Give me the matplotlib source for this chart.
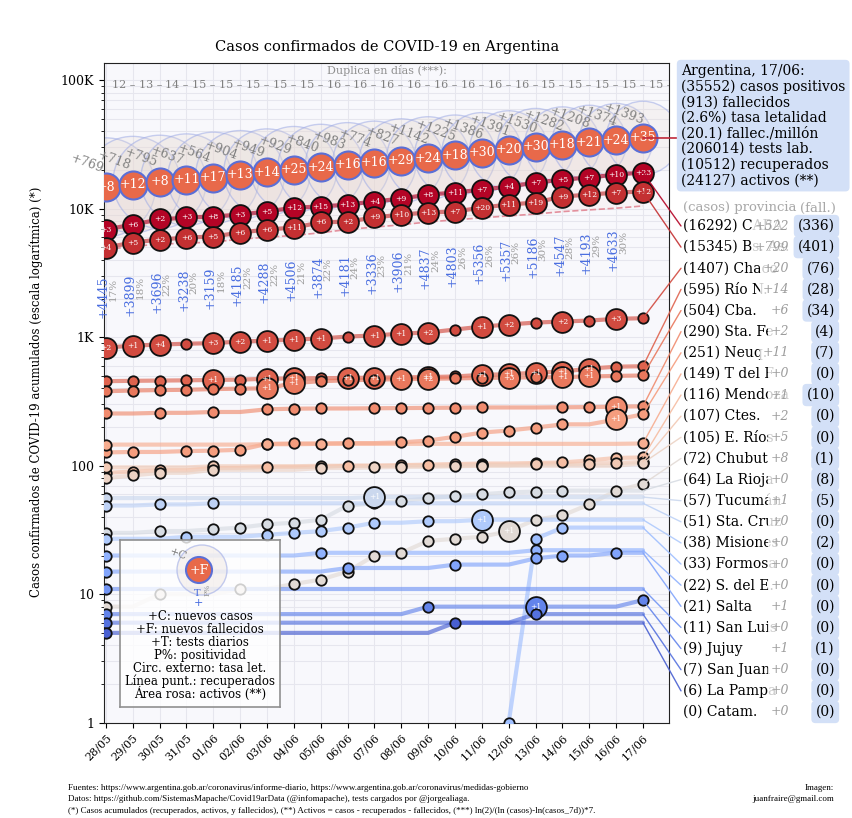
import numpy as np
import matplotlib
matplotlib.use('Agg')
import matplotlib.pyplot as plt
from matplotlib.patches import Circle, ConnectionPatch
from matplotlib.transforms import blended_transform_factory
from matplotlib.ticker import LogLocator, NullFormatter

plt.rcParams['font.family'] = ['DejaVu Serif']

# ---------------- data ----------------
dates = ['28/05', '29/05', '30/05', '31/05', '01/06', '02/06', '03/06', '04/06', '05/06', '06/06',
         '07/06', '08/06', '09/06', '10/06', '11/06', '12/06', '13/06', '14/06', '15/06', '16/06', '17/06']
cases = [14701, 15419, 16214, 16851, 17415, 18319, 19268, 20197, 21037, 22020, 22794,
         23621, 24763, 25988, 27374, 28765, 30295, 31577, 32785, 34159, 35552]
new_cases = [769, 718, 795, 637, 564, 904, 949, 929, 840, 983, 774,
             827, 1142, 1225, 1386, 1391, 1530, 1282, 1208, 1374, 1393]
deaths = [508, 520, 528, 539, 556, 569, 583, 608, 632, 648, 664,
          693, 717, 735, 765, 785, 815, 833, 854, 878, 913]
new_deaths = [8, 12, 8, 11, 17, 13, 14, 25, 24, 16, 16, 29, 24, 18, 30, 20, 30, 18, 21, 24, 35]
recovered = [4800, 5100, 5300, 5400, 5500, 5800, 6000, 6200, 6500, 6900, 7200,
             7500, 7900, 8200, 8500, 8800, 9100, 9500, 9800, 10100, 10512]
doubling = [12, 13, 14, 15, 15, 15, 15, 15, 16, 16, 16, 16, 16, 16, 16, 16, 15, 15, 15, 15, 15]
tests = [4445, 3899, 3696, 3238, 3159, 4185, 4288, 4506, 3874, 4181,
         3336, 3906, 4837, 4803, 5356, 5357, 5186, 4547, 4193, 4633]
positivity = [17, 18, 22, 20, 18, 22, 22, 21, 22, 24, 23, 21, 24, 26, 26, 26, 30, 28, 29, 30]

summary_lines = ['Argentina, 17/06:', '(35552) casos positivos', '(913) fallecidos',
                 '(2.6%) tasa letalidad', '(20.1) fallec./millón', '(206014) tests lab.',
                 '(10512) recuperados', '(24127) activos (**)']

prov_names = ['CABA', 'Bs. As.', 'Chaco', 'Río N.', 'Cba.', 'Sta. Fe', 'Neuq.', 'T del F',
              'Mendoza', 'Ctes.', 'E. Ríos', 'Chubut', 'La Rioja', 'Tucumán', 'Sta. Cruz',
              'Misiones', 'Formosa', 'S. del E.', 'Salta', 'San Luis', 'Jujuy', 'San Juan',
              'La Pampa', 'Catam.']
prov_total = [16292, 15345, 1407, 595, 504, 290, 251, 149, 116, 107, 105, 72, 64, 57, 51,
              38, 33, 22, 21, 11, 9, 7, 6, 0]
prov_new_today = [522, 799, 20, 14, 6, 2, 11, 0, 1, 2, 5, 8, 0, 1, 0, 0, 0, 0, 1, 0, 1, 0, 0, 0]
prov_deaths_total = [336, 401, 76, 28, 34, 4, 7, 0, 10, 0, 0, 1, 8, 5, 0, 2, 0, 0, 0, 0, 1, 0, 0, 0]

nan = np.nan
prov_series = [
    [6890, 7540, 8250, 8550, 8700, 9020, 9510, 10210, 10400, 10790, 11380, 12000, 12890, 13360, 14100, 14880, 15990, 16870, 17500, 18460, 19140],
    [4990, 5460, 5760, 5970, 6080, 6530, 6890, 7140, 7820, 7950, 8550, 9020, 9350, 9510, 10210, 10790, 11170, 12450, 12890, 13360, 13620],
    [831, 860, 878, 890, 900, 926, 940, 960, 977, 1013, 1031, 1068, 1088, 1148, 1211, 1256, 1301, 1325, 1349, 1390, 1407],
    [455, 458, 460, 462, 465, 468, 475, 478, 480, 482, 485, 488, 490, 495, 510, 515, 530, 540, 570, 590, 595],
    [380, 385, 388, 390, 395, 398, 400, 440, 455, 462, 468, 472, 475, 478, 482, 485, 488, 490, 495, 500, 504],
    [255, 255, 258, 258, 262, 262, 275, 278, 279, 279, 280, 281, 282, 283, 284, 284, 284, 285, 286, 288, 290],
    [127, 128, 128, 130, 131, 133, 148, 149, 149, 150, 150, 152, 157, 168, 181, 188, 198, 210, 210, 229, 251],
    [146, 146, 146, 146, 146, 146, 147, 147, 148, 148, 148, 148, 148, 148, 148, 148, 148, 148, 148, 148, 149],
    [88, 90, 92, 92, 96, 96, 98, 98, 98, 100, 100, 101, 102, 103, 104, 104, 105, 106, 110, 115, 116],
    [97, 97, 97, 97, 99, 99, 99, 99, 100, 100, 100, 100, 100, 100, 101, 101, 103, 103, 104, 105, 107],
    [80, 84, 88, 88, 93, 93, 93, 93, 96, 96, 97, 98, 98, 99, 100, 100, 100, 100, 100, 100, 105],
    [8, 8, 10, 10, 10, 11, 11, 12, 13, 15, 20, 21, 26, 27, 28, 31, 38, 41, 50, 64, 72],
    [30, 30, 31, 31, 32, 33, 35, 36, 38, 49, 51, 53, 56, 58, 60, 62, 63, 64, 64, 64, 64],
    [56, 56, 56, 56, 56, 56, 56, 56, 56, 56, 57, 57, 57, 57, 57, 57, 57, 57, 57, 57, 57],
    [49, 49, 50, 50, 51, 51, 51, 51, 51, 51, 51, 51, 51, 51, 51, 51, 51, 51, 51, 51, 51],
    [27, 27, 27, 28, 28, 28, 29, 30, 31, 33, 36, 36, 37, 37, 38, 38, 38, 38, 38, 38, 38],
    [nan, nan, nan, nan, nan, nan, nan, nan, nan, nan, nan, nan, nan, nan, nan, 1, 27, 33, 33, 33, 33],
    [20, 20, 20, 20, 20, 20, 20, 20, 21, 21, 21, 21, 21, 21, 21, 21, 22, 22, 22, 22, 22],
    [15, 15, 15, 15, 15, 15, 15, 15, 15, 16, 16, 16, 16, 17, 17, 17, 19, 20, 20, 21, 21],
    [11, 11, 11, 11, 11, 11, 11, 11, 11, 11, 11, 11, 11, 11, 11, 11, 11, 11, 11, 11, 11],
    [7, 7, 7, 7, 7, 7, 7, 7, 7, 7, 7, 7, 8, 8, 8, 8, 8, 8, 8, 8, 9],
    [6, 6, 6, 6, 6, 6, 6, 6, 6, 6, 6, 6, 6, 6, 6, 6, 7, 7, 7, 7, 7],
    [5, 5, 5, 5, 5, 5, 5, 5, 5, 5, 5, 5, 5, 6, 6, 6, 6, 6, 6, 6, 6],
    [nan] * 21,
]
prov_new_deaths = [
    [3, 6, 2, 3, 8, 3, 5, 12, 15, 13, 4, 9, 8, 11, 7, 4, 7, 5, 7, 10, 23],
    [4, 5, 2, 6, 5, 6, 6, 11, 6, 2, 9, 10, 13, 7, 20, 11, 19, 9, 12, 7, 12],
    [2, 1, 4, 0, 3, 2, 1, 1, 1, 0, 1, 1, 2, 0, 1, 2, 0, 2, 0, 3, 0],
    [0, 0, 0, 0, 1, 0, 1, 1, 0, 1, 1, 0, 1, 0, 1, 1, 1, 1, 1, 0, 0],
    [0, 0, 0, 0, 0, 0, 1, 1, 0, 0, 0, 1, 2, 0, 0, 3, 0, 1, 1, 0, 0],
    [0, 0, 0, 0, 0, 0, 0, 0, 0, 0, 0, 0, 0, 0, 0, 0, 0, 0, 0, 1, 0],
    [0, 0, 0, 0, 0, 0, 0, 0, 0, 0, 0, 0, 0, 0, 0, 0, 0, 0, 0, 1, 0],
] + [[0] * 21 for _ in range(4)] + [
    [0, 0, 0, 0, 0, 0, 0, 0, 0, 0, 0, 0, 0, 0, 0, 1, 0, 0, 0, 0, 0],
    [0] * 21,
    [0, 0, 0, 0, 0, 0, 0, 0, 0, 0, 1, 0, 0, 0, 0, 0, 0, 0, 0, 0, 0],
    [0] * 21,
    [0, 0, 0, 0, 0, 0, 0, 0, 0, 0, 0, 0, 0, 0, 1, 0, 0, 0, 0, 0, 0],
] + [[0] * 21 for _ in range(4)] + [
    [0, 0, 0, 0, 0, 0, 0, 0, 0, 0, 0, 0, 0, 0, 0, 0, 1, 0, 0, 0, 0],
] + [[0] * 21 for _ in range(3)]

# ---------------- figure ----------------
W, H = 853, 818
fig = plt.figure(figsize=(W / 100, H / 100), dpi=100)
def fx(px): return px / W
def fy(py): return 1 - py / H

ax = fig.add_axes([fx(104), fy(722.7), (669 - 104) / W, (722.7 - 62.7) / H])
ax.set_yscale('log')
ax.set_ylim(1, 1.37e5)
ax.set_xlim(-0.07, 20.97)
ax.set_facecolor('#f8f8fc')
x = np.arange(len(dates))

ax.set_xticks(x)
ax.set_xticklabels(dates, rotation=45, ha='right', rotation_mode='anchor', fontsize=8)
ax.set_yticks([1, 10, 100, 1e3, 1e4, 1e5])
ax.set_yticklabels(['1', '10', '100', '1K', '10K', '100K'], fontsize=9)
ax.yaxis.set_minor_locator(LogLocator(base=10, subs=np.arange(2, 10)))
ax.yaxis.set_minor_formatter(NullFormatter())
ax.grid(True, which='both', color='#e6e6ee', lw=0.8, zorder=0)
ax.set_axisbelow(True)
for s in ax.spines.values():
    s.set_color('#222222')

# active area + recovered
ax.fill_between(x, recovered, cases, color='#f6d9d6', alpha=0.18, lw=0, zorder=1)
ax.plot(x, recovered, ls='--', color='#e07f8e', lw=1.2, alpha=0.85, zorder=3)

# lethality outer circles
leth = 100 * np.array(deaths) / np.array(cases)
r_out = 14.3 * leth
ax.scatter(x, cases, s=(2 * r_out * 0.72) ** 2, facecolor=(0.90, 0.85, 0.82, 0.22),
           edgecolor=(0.62, 0.67, 0.90, 0.55), lw=1.0, zorder=2)

# provinces
cmap = plt.get_cmap('coolwarm')
n_p = len(prov_names)
order = np.argsort(prov_total)
rank = np.empty(n_p)
rank[order] = np.arange(n_p)
prov_colors = [cmap(rank[k] / (n_p - 1)) for k in range(n_p)]

for k in range(n_p):
    vals = np.array(prov_series[k], dtype=float)
    if np.all(np.isnan(vals)):
        continue
    c = prov_colors[k]
    ax.plot(x, vals, color=c, lw=3, alpha=0.65, zorder=4, solid_capstyle='round')
    for i in range(len(x)):
        if np.isnan(vals[i]):
            continue
        prev = vals[i - 1] if i > 0 else nan
        d = prov_new_deaths[k][i]
        if i == 0 or np.isnan(prev) or vals[i] > prev or d > 0:
            ms = 15 if d > 0 else 7.5
            ax.plot(i, vals[i], 'o', ms=ms, mfc=c, mec='#111111', mew=1.3, zorder=5)
            if d > 0:
                ax.text(i, vals[i], f'+{d}', color='white', fontsize=5.5, ha='center',
                        va='center', zorder=6)

# tests & positivity
for i, t in enumerate(tests):
    ax.text(i - 0.1, cases[i] / 10.5, f'+{t}', rotation=90, ha='center', va='bottom',
            color='#4a6ee0', fontsize=9, zorder=6)
    ax.text(i + 0.28, cases[i] / 5.1, f'{positivity[i]}%', rotation=90, ha='center',
            va='top', color='#9a9a9a', fontsize=7.5, zorder=6)

# national circles
ax.scatter(x, cases, s=(28 * 0.72) ** 2, c='#e8694a', edgecolors='#5b6fd6', linewidths=1.5,
           zorder=8)
for i, d in enumerate(new_deaths):
    ax.text(i, cases[i], f'+{d}', color='white', ha='center', va='center', fontsize=9,
            zorder=9)
    ax.annotate(f'+{new_cases[i]}', (i, cases[i]), xytext=(-13.7, 17.3),
                textcoords='offset points', rotation=-20, ha='center', va='center',
                color='#808080', fontsize=9, zorder=7)

# doubling
trans = blended_transform_factory(ax.transData, ax.transAxes)
ax.text(0.5, (722.7 - 71) / 660, 'Duplica en días (***):', transform=ax.transAxes,
        ha='center', va='center', color='#909090', fontsize=8)
for i, d in enumerate(doubling):
    ax.text(i + 0.22, (722.7 - 85.5) / 660, f'{d} – ', transform=trans, ha='left',
            va='center', color='#808080', fontsize=8, clip_on=True)

# title / labels
fig.text(fx(387), fy(47), 'Casos confirmados de COVID-19 en Argentina', ha='center',
         va='center', fontsize=10.5)
fig.text(fx(36), fy(392), 'Casos confirmados de COVID-19 acumulados (escala logarítmica) (*)',
         rotation=90, ha='center', va='center', fontsize=8.5)

# summary box
fig.text(fx(681), fy(64), '\n'.join(summary_lines), ha='left', va='top', fontsize=10,
         linespacing=1.13, bbox=dict(boxstyle='round,pad=0.3', fc='#d3e0f7', ec='none'))
fig.add_artist(ConnectionPatch(xyA=(20, cases[-1]), coordsA=ax.transData,
                               xyB=(fx(681), fy(138)), coordsB=fig.transFigure,
                               color='#c0283a', lw=1.2))

# province list
fig.text(fx(683), fy(208), '(casos) provincia', color='#a8a8a8', fontsize=9.5,
         ha='left', va='center')
fig.text(fx(836), fy(208), '(fall.)', color='#a8a8a8', fontsize=9.5, ha='right', va='center')
for k in range(n_p):
    yk = 226 + k * 21.13
    fig.text(fx(683), fy(yk), f'({prov_total[k]}) {prov_names[k]}', fontsize=10,
             ha='left', va='center')
    fig.text(fx(789), fy(yk), f'+{prov_new_today[k]}', fontstyle='italic', color='#9c9c9c',
             fontsize=9, ha='right', va='center',
             bbox=dict(boxstyle='square,pad=0.2', fc='white', ec='none', alpha=0.8))
    fig.text(fx(835), fy(yk), f'({prov_deaths_total[k]})', fontsize=10, ha='right',
             va='center', bbox=dict(boxstyle='round,pad=0.3', fc='#d3e0f7', ec='none'))
    vals = np.array(prov_series[k], dtype=float)
    if not np.isnan(vals[-1]):
        fig.add_artist(ConnectionPatch(xyA=(20, vals[-1]), coordsA=ax.transData,
                                       xyB=(fx(681), fy(yk)), coordsB=fig.transFigure,
                                       color=prov_colors[k], lw=1.0, alpha=0.9))

# legend box
lg = fig.add_axes([fx(120), fy(707), 160 / W, 167 / H])
lg.set_xlim(0, 160)
lg.set_ylim(167, 0)
lg.set_xticks([])
lg.set_yticks([])
lg.patch.set_facecolor('white')
lg.patch.set_alpha(0.8)
for s in lg.spines.values():
    s.set_color('#909090')
    s.set_linewidth(1.2)
lg.add_patch(Circle((82, 30), 25, fc=(0.90, 0.85, 0.82, 0.3), ec=(0.62, 0.67, 0.9, 0.6), lw=1))
lg.add_patch(Circle((79, 30), 13, fc='#e8694a', ec='#5b6fd6', lw=1.5))
lg.text(79, 30, '+F', color='white', ha='center', va='center', fontsize=9)
lg.text(58, 14, '+C', color='#808080', ha='center', va='center', fontsize=8, rotation=-20)
lg.text(77, 53, 'T', color='#4a6ee0', ha='center', va='center', fontsize=7)
lg.text(88, 50, 'P%', color='#9a9a9a', ha='center', va='center', fontsize=5.5, rotation=90)
lg.text(78, 63, '+', color='#4a6ee0', ha='center', va='center', fontsize=8)
legend_lines = ['+C: nuevos casos', '+F: nuevos fallecidos', '+T: tests diarios',
                'P%: positividad', 'Circ. externo: tasa let.', 'Línea punt.: recuperados',
                'Área rosa: activos (**)']
for j, t in enumerate(legend_lines):
    lg.text(80, 77 + j * 12.8, t, ha='center', va='center', fontsize=8.5)

# footer
foot = ['Fuentes: https://www.argentina.gob.ar/coronavirus/informe-diario, https://www.argentina.gob.ar/coronavirus/medidas-gobierno',
        'Datos: https://github.com/SistemasMapache/Covid19arData (@infomapache), tests cargados por @jorgealiaga.',
        '(*) Casos acumulados (recuperados, activos, y fallecidos), (**) Activos = casos - recuperados - fallecidos, (***) ln(2)/(ln (casos)-ln(casos_7d))*7.']
for j, t in enumerate(foot):
    fig.text(fx(68), fy(788 + j * 11.3), t, fontsize=6.5, family='Liberation Serif',
             ha='left', va='center')
fig.text(fx(834), fy(788), 'Imagen:', fontsize=6.5, family='Liberation Serif', ha='right', va='center')
fig.text(fx(834), fy(799.3), 'juanfraire@gmail.com', fontsize=6.5, family='Liberation Serif',
         ha='right', va='center')

fig.savefig('out.png', dpi=100)
